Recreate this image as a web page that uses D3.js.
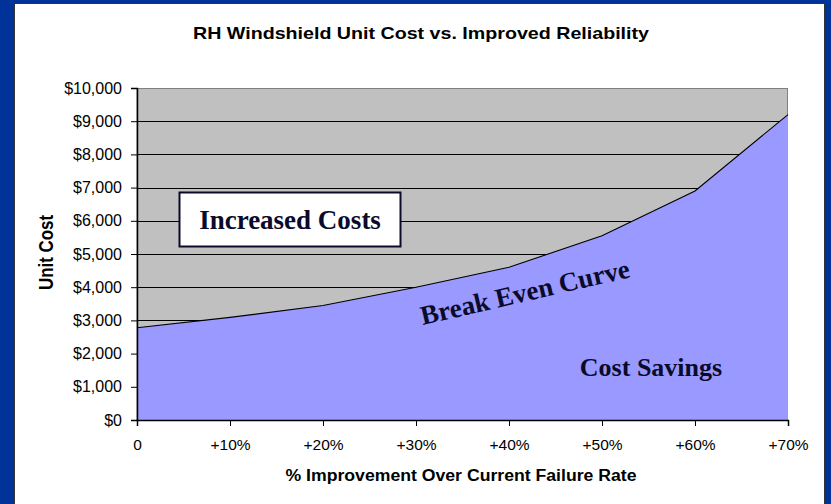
<!DOCTYPE html>
<html>
<head>
<meta charset="utf-8">
<script src="https://cdn.jsdelivr.net/npm/d3@7"></script>
<style>
  body { margin: 0; background: #003399; }
  svg { display: block; }
</style>
</head>
<body>
<svg id="chart"></svg>
<script>
// values
var categories = ["0", "+10%", "+20%", "+30%", "+40%", "+50%", "+60%", "+70%"];
var unitCost = [2780, 3090, 3450, 4000, 4600, 5550, 6900, 9200];
var yTicks = [0, 1000, 2000, 3000, 4000, 5000, 6000, 7000, 8000, 9000, 10000];

var width = 831,
    height = 504;
// plot box (don't call it "top", window.top is read only)
var pLeft = 137, pRight = 788, pTop = 88, pBottom = 420;

var sans = "Arial, 'Liberation Sans', sans-serif",
    serif = "'Times New Roman', 'Liberation Serif', serif",
    ink = "#0a0a2a";

var svg = d3.select("#chart")
    .attr("width", width)
    .attr("height", height);

// white slide panel
svg.append("rect")
    .attr("x", 14.5).attr("y", 3.5)
    .attr("width", 810).attr("height", 510)
    .attr("fill", "#fff")
    .attr("stroke", "#333")
    .attr("stroke-width", 1);

var x = d3.scalePoint()
    .domain(categories)
    .range([pLeft, pRight]);

var y = d3.scaleLinear()
    .domain([0, 10000])
    .range([pBottom, pTop]);

// plot area
svg.append("rect")
    .attr("x", pLeft).attr("y", pTop + 0.5)
    .attr("width", pRight - pLeft - 0.5).attr("height", pBottom - pTop)
    .attr("fill", "#c0c0c0")
    .attr("stroke", "#808080");

// gridlines
svg.append("g")
  .selectAll("line")
    .data(yTicks.slice(1, -1))
  .enter().append("line")
    .attr("x1", pLeft).attr("x2", pRight)
    .attr("y1", function(d) { return Math.round(y(d)) + 0.5; })
    .attr("y2", function(d) { return Math.round(y(d)) + 0.5; })
    .attr("stroke", "#000")
    .attr("stroke-width", 1);

// area under break even curve
var area = d3.area()
    .x(function(d, i) { return x(categories[i]); })
    .y0(y(0))
    .y1(function(d) { return y(d); });

svg.append("path")
    .datum(unitCost)
    .attr("d", area)
    .attr("fill", "#9999ff");

var line = d3.line()
    .x(function(d, i) { return x(categories[i]); })
    .y(function(d) { return y(d); });

svg.append("path")
    .datum(unitCost)
    .attr("d", line)
    .attr("fill", "none")
    .attr("stroke", "#000")
    .attr("stroke-width", 1.1);

// axes
var yAxis = d3.axisLeft(y)
    .tickValues(yTicks)
    .tickSize(6)
    .tickPadding(9)
    .tickFormat(function(d) { return "$" + d3.format(",")(d); });

var xAxis = d3.axisBottom(x)
    .tickSize(6)
    .tickPadding(13);

var gy = svg.append("g")
    .attr("transform", "translate(" + pLeft + ",0)")
    .call(yAxis);
var gx = svg.append("g")
    .attr("transform", "translate(0," + pBottom + ")")
    .call(xAxis);

[gx, gy].forEach(function(g) {
  g.select(".domain").attr("stroke", "#000").attr("stroke-width", 1.5);
  g.selectAll(".tick line").attr("stroke", "#000");
  g.selectAll("text")
    .attr("font-family", sans)
    .attr("fill", "#000");
});
gx.selectAll("text").attr("font-size", 15.5);
gy.selectAll("text").attr("font-size", 16);

// titles
svg.append("text")
    .attr("x", 421).attr("y", 39)
    .attr("text-anchor", "middle")
    .attr("font-family", sans)
    .attr("font-weight", "bold")
    .attr("font-size", 17)
    .attr("textLength", 456)
    .attr("lengthAdjust", "spacingAndGlyphs")
    .text("RH Windshield Unit Cost vs. Improved Reliability");

svg.append("text")
    .attr("x", 461).attr("y", 481)
    .attr("text-anchor", "middle")
    .attr("font-family", sans)
    .attr("font-weight", "bold")
    .attr("font-size", 16)
    .attr("textLength", 351)
    .attr("lengthAdjust", "spacingAndGlyphs")
    .text("% Improvement Over Current Failure Rate");

svg.append("text")
    .attr("transform", "translate(52.5,252.5) scale(1.2,1) rotate(-90)")
    .attr("text-anchor", "middle")
    .attr("font-family", sans)
    .attr("font-weight", "bold")
    .attr("font-size", 17)
    .attr("textLength", 75)
    .attr("lengthAdjust", "spacingAndGlyphs")
    .text("Unit Cost");

// annotations
svg.append("rect")
    .attr("x", 179.5).attr("y", 192.5)
    .attr("width", 221).attr("height", 54)
    .attr("fill", "#fff")
    .attr("stroke", ink)
    .attr("stroke-width", 2);

svg.append("text")
    .attr("x", 290).attr("y", 229)
    .attr("text-anchor", "middle")
    .attr("font-family", serif)
    .attr("font-weight", "bold")
    .attr("font-size", 27)
    .attr("fill", ink)
    .text("Increased Costs");

svg.append("text")
    .attr("transform", "translate(527,301) rotate(-13)")
    .attr("text-anchor", "middle")
    .attr("font-family", serif)
    .attr("font-weight", "bold")
    .attr("font-size", 27)
    .attr("fill", ink)
    .text("Break Even Curve");

svg.append("text")
    .attr("x", 651).attr("y", 376)
    .attr("text-anchor", "middle")
    .attr("font-family", serif)
    .attr("font-weight", "bold")
    .attr("font-size", 26)
    .attr("fill", ink)
    .text("Cost Savings");
</script>
</body>
</html>
